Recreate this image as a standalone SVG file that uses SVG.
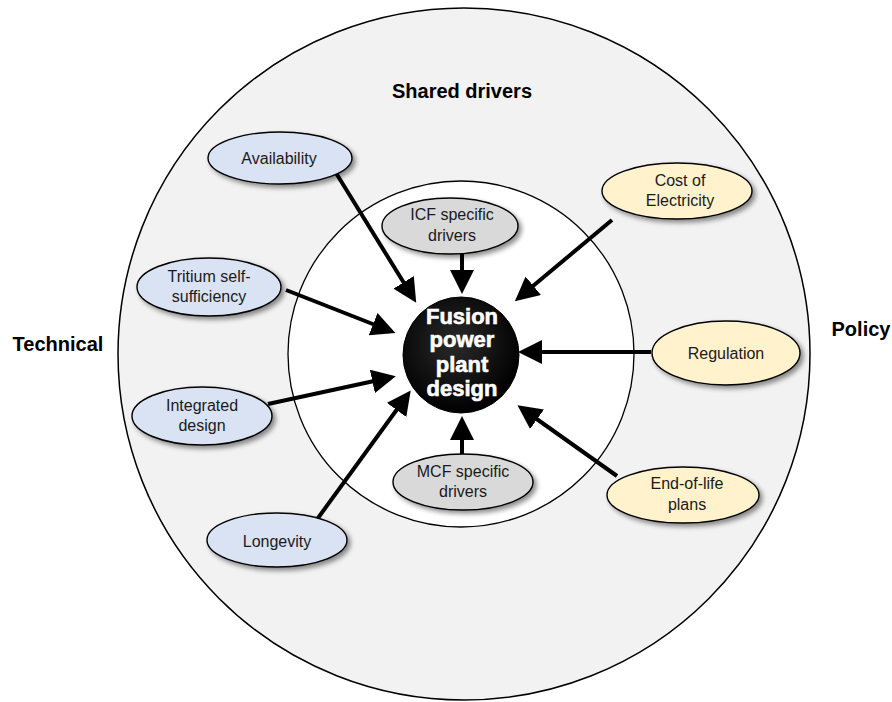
<svg xmlns="http://www.w3.org/2000/svg" width="892" height="702" viewBox="0 0 892 702">
<defs>
<filter id="sh" x="-30%" y="-30%" width="160%" height="170%">
<feGaussianBlur in="SourceAlpha" stdDeviation="2.5"/>
<feOffset dx="3" dy="3" result="b"/>
<feComponentTransfer><feFuncA type="linear" slope="0.45"/></feComponentTransfer>
<feMerge><feMergeNode/><feMergeNode in="SourceGraphic"/></feMerge>
</filter>
<radialGradient id="cg" cx="0.45" cy="0.4" r="0.6">
<stop offset="0" stop-color="#2a2a2a"/>
<stop offset="1" stop-color="#000"/>
</radialGradient>
<marker id="ah" markerWidth="6" markerHeight="6" refX="4" refY="3" orient="auto" markerUnits="strokeWidth">
<path d="M0,0 L6,3 L0,6 Z" fill="#000"/>
</marker>
<style>
.lbl{font-family:"Liberation Sans",Arial,sans-serif;font-size:16px;fill:#1a1a1a;text-anchor:middle}
.hd{font-family:"Liberation Sans",Arial,sans-serif;font-size:20px;font-weight:bold;fill:#000;text-anchor:middle}
.ctr{font-family:"Liberation Sans",Arial,sans-serif;font-size:22px;font-weight:bold;fill:#fff;stroke:#fff;stroke-width:0.6;text-anchor:middle}
.blue{fill:#dae3f3;stroke:#000;stroke-width:1.4;filter:url(#sh)}
.yel{fill:#fff2cc;stroke:#000;stroke-width:1.4;filter:url(#sh)}
.gry{fill:#d9d9d9;stroke:#000;stroke-width:1.4;filter:url(#sh)}
.arr{stroke:#000;stroke-width:4;fill:none;marker-end:url(#ah)}
</style>
</defs>
<rect width="892" height="702" fill="#fff"/>
<g id="outer">
<circle cx="464" cy="354" r="346" fill="#f2f2f2" stroke="#000" stroke-width="1.5"/>
</g>
<g id="inner">
<circle cx="461" cy="354" r="173" fill="#fff" stroke="#000" stroke-width="1.3"/>
</g>
<text class="hd" x="462" y="98">Shared drivers</text>
<text class="hd" x="58" y="351">Technical</text>
<text class="hd" x="861" y="336">Policy</text>
<g id="connectors">
<line class="arr" x1="336" y1="173" x2="412" y2="296"/>
<line class="arr" x1="286" y1="290" x2="388" y2="330"/>
<line class="arr" x1="268" y1="404" x2="388" y2="378"/>
<line class="arr" x1="318" y1="518" x2="406" y2="397"/>
<line class="arr" x1="462" y1="254" x2="462" y2="286"/>
<line class="arr" x1="462" y1="455" x2="462" y2="424"/>
<line class="arr" x1="612" y1="220" x2="521" y2="296"/>
<line class="arr" x1="651" y1="352" x2="526" y2="352"/>
<line class="arr" x1="617" y1="476" x2="524" y2="410"/>
</g>
<g id="center">
<circle cx="461" cy="355" r="58" fill="url(#cg)" stroke="#000" stroke-width="1"/>
<text class="ctr" x="462" y="324">Fusion</text>
<text class="ctr" x="462" y="347">power</text>
<text class="ctr" x="462" y="372">plant</text>
<text class="ctr" x="462" y="396">design</text>
</g>
<g id="availability">
<ellipse class="blue" cx="280" cy="158" rx="72" ry="26"/>
<text class="lbl" x="279" y="164">Availability</text>
</g>
<g id="tritium">
<ellipse class="blue" cx="209" cy="287" rx="72" ry="29"/>
<text class="lbl" x="209" y="282">Tritium self-</text>
<text class="lbl" x="209" y="302">sufficiency</text>
</g>
<g id="integrated">
<ellipse class="blue" cx="202" cy="416" rx="70" ry="29"/>
<text class="lbl" x="202" y="411">Integrated</text>
<text class="lbl" x="202" y="431">design</text>
</g>
<g id="longevity">
<ellipse class="blue" cx="277" cy="540" rx="70" ry="27"/>
<text class="lbl" x="277" y="547">Longevity</text>
</g>
<g id="icf">
<ellipse class="gry" cx="450" cy="226" rx="68" ry="28"/>
<text class="lbl" x="452" y="220">ICF specific</text>
<text class="lbl" x="452" y="241">drivers</text>
</g>
<g id="mcf">
<ellipse class="gry" cx="463" cy="482" rx="70" ry="28"/>
<text class="lbl" x="463" y="477">MCF specific</text>
<text class="lbl" x="463" y="497">drivers</text>
</g>
<g id="cost">
<ellipse class="yel" cx="677" cy="191" rx="75" ry="28"/>
<text class="lbl" x="680" y="186">Cost of</text>
<text class="lbl" x="680" y="206">Electricity</text>
</g>
<g id="regulation">
<ellipse class="yel" cx="726" cy="353" rx="74" ry="32"/>
<text class="lbl" x="726" y="359">Regulation</text>
</g>
<g id="endoflife">
<ellipse class="yel" cx="683" cy="495" rx="76" ry="28"/>
<text class="lbl" x="687" y="489">End-of-life</text>
<text class="lbl" x="687" y="510">plans</text>
</g>
</svg>
